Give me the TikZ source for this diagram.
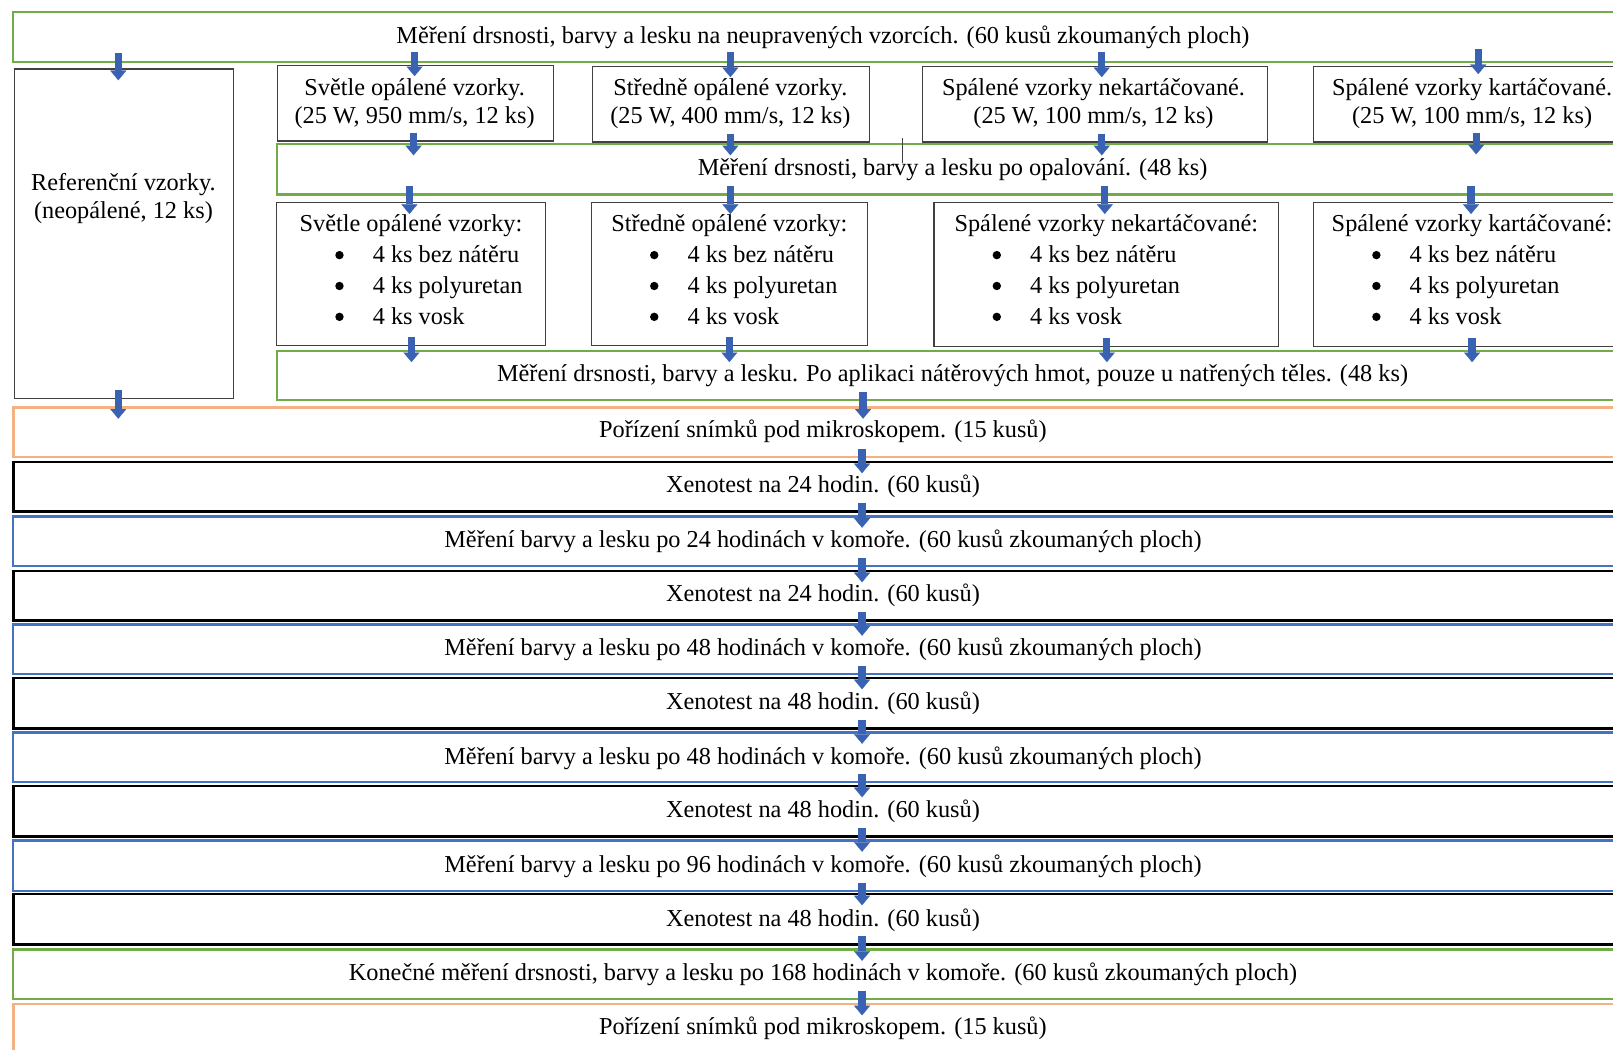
\documentclass[tikz,border=0pt]{standalone}
\usepackage{fontspec}
\setmainfont{Liberation Serif}
\usetikzlibrary{fit,calc,arrows.meta}
\definecolor{boxgreen}{RGB}{112,173,71}
\definecolor{boxorange}{RGB}{244,177,131}
\definecolor{boxblue}{RGB}{68,114,196}
\definecolor{arrowblue}{RGB}{58,98,178}
\definecolor{thinline}{RGB}{64,64,64}
\tikzset{
  frame/.style={inner sep=0pt, outer sep=0pt},
  greenbox/.style={frame, draw=boxgreen, line width=1.1pt},
  orangebox/.style={frame, draw=boxorange, line width=1.2pt},
  bluebox/.style={frame, draw=boxblue, line width=1.1pt},
  blackbox/.style={frame, draw=black, line width=1.35pt},
  thinbox/.style={frame, draw=thinline, line width=0.6pt},
  txt/.style={anchor=base, inner sep=0pt, font=\fontsize{12.15pt}{14pt}\selectfont},
  itemtxt/.style={txt, anchor=base west},
  bulletdot/.style={circle, fill=black, inner sep=0pt, minimum size=4.2pt},
  barrow/.style={draw=arrowblue, line width=3.6pt,
    -{Triangle[width=8pt,length=4.8pt,line width=0.1pt]}},
}
% block arrow at x from the bottom of one node into the top of the next
\newcommand\flowarrow[4][0]{%
  \path (#2,0 |- #3.south) coordinate (fa) (#2,0 |- #4.north) coordinate (fb);
  \draw[barrow] ($(fa)+(0,{-8+#1})$) -- ($(fb)+(0,{11+#1})$);}
% box with heading and three bullet items
\newcommand\listbox[6]{%
  \node[thinbox, fit={(#2,197) (#3,#4)}] (#1) {};
  \node[txt] (#1h) at (#5,225) {#6};
  \node[bulletdot] (#1b1) at ({#2+61},248) {};
  \node[bulletdot] (#1b2) at ({#2+61},278) {};
  \node[bulletdot] (#1b3) at ({#2+61},308) {};
  \node[itemtxt] (#1i1) at ({#2+93},255) {4 ks bez nátěru};
  \node[itemtxt] (#1i2) at ({#2+93},285) {4 ks polyuretan};
  \node[itemtxt] (#1i3) at ({#2+93},315) {4 ks vosk};
}
\begin{document}
\begin{tikzpicture}[x=0.51435pt, y=-0.51435pt]
\useasboundingbox (0,0) rectangle (1568,1020);
\clip (0,0) rectangle (1568,1020);
\fill[white] (0,0) rectangle (1568,1020);

% ---------- top section ----------
\node[greenbox, fit={(13,12) (1586,60)}] (top) {};
\node[txt] (topt) at (800,42) {Měření drsnosti, barvy a lesku na neupravených vzorcích. (60 kusů zkoumaných ploch)};

\node[thinbox, fit={(14,67) (227,387)}] (ref) {};
\node[txt] (reft1) at (120,185) {Referenční vzorky.};
\node[txt] (reft2) at (120,212) {(neopálené, 12 ks)};

\node[thinbox, fit={(270,64) (538,137)}] (A1) {};
\node[txt] (A1t1) at (403,93) {Světle opálené vzorky.};
\node[txt] (A1t2) at (403,120) {(25 W, 950 mm/s, 12 ks)};

\node[thinbox, fit={(576,65) (845,138)}] (B1) {};
\node[txt] (B1t1) at (710,93) {Středně opálené vzorky.};
\node[txt] (B1t2) at (710,120) {(25 W, 400 mm/s, 12 ks)};

\node[thinbox, fit={(897,65) (1232,138)}] (C1) {};
\node[txt] (C1t1) at (1063,93) {Spálené vzorky nekartáčované.};
\node[txt] (C1t2) at (1063,120) {(25 W, 100 mm/s, 12 ks)};

\node[thinbox, fit={(1277,65) (1585,138)}] (D1) {};
\node[txt] (D1t1) at (1431,93) {Spálené vzorky kartáčované.};
\node[txt] (D1t2) at (1431,120) {(25 W, 100 mm/s, 12 ks)};

\node[greenbox, fit={(269,140) (1586,189)}] (G2) {};
\node[txt] (G2t) at (926,171) {Měření drsnosti, barvy a lesku po opalování. (48 ks)};

\listbox{A2}{269}{530}{336}{399.5}{Světle opálené vzorky:}
\listbox{B2}{575}{843}{336}{709}{Středně opálené vzorky:}
\listbox{C2}{908}{1243}{337}{1075.5}{Spálené vzorky nekartáčované:}
\listbox{D2}{1277}{1586}{337}{1431}{Spálené vzorky kartáčované:}

\node[greenbox, fit={(269,341) (1586,389)}] (G3) {};
\node[txt] (G3t) at (926,371) {Měření drsnosti, barvy a lesku. Po aplikaci nátěrových hmot, pouze u natřených těles. (48 ks)};

% ---------- full-width sequence ----------
\node[orangebox, fit={(13,396) (1586,444)}] (O1) {};
\node[txt] (O1t) at (800,425) {Pořízení snímků pod mikroskopem. (15 kusů)};
\node[blackbox, fit={(13,449) (1586,497)}] (K1) {};
\node[txt] (K1t) at (800,479) {Xenotest na 24 hodin. (60 kusů)};
\node[bluebox, fit={(13,502) (1586,550)}] (U1) {};
\node[txt] (U1t) at (800,532) {Měření barvy a lesku po 24 hodinách v komoře. (60 kusů zkoumaných ploch)};
\node[blackbox, fit={(13,555) (1586,603)}] (K2) {};
\node[txt] (K2t) at (800,585) {Xenotest na 24 hodin. (60 kusů)};
\node[bluebox, fit={(13,607) (1586,655)}] (U2) {};
\node[txt] (U2t) at (800,637) {Měření barvy a lesku po 48 hodinách v komoře. (60 kusů zkoumaných ploch)};
\node[blackbox, fit={(13,659) (1586,708)}] (K3) {};
\node[txt] (K3t) at (800,690) {Xenotest na 48 hodin. (60 kusů)};
\node[bluebox, fit={(13,712) (1586,760)}] (U3) {};
\node[txt] (U3t) at (800,743) {Měření barvy a lesku po 48 hodinách v komoře. (60 kusů zkoumaných ploch)};
\node[blackbox, fit={(13,764) (1586,813)}] (K4) {};
\node[txt] (K4t) at (800,795) {Xenotest na 48 hodin. (60 kusů)};
\node[bluebox, fit={(13,817) (1586,866)}] (U4) {};
\node[txt] (U4t) at (800,848) {Měření barvy a lesku po 96 hodinách v komoře. (60 kusů zkoumaných ploch)};
\node[blackbox, fit={(13,869) (1586,918)}] (K5) {};
\node[txt] (K5t) at (800,901) {Xenotest na 48 hodin. (60 kusů)};
\node[greenbox, fit={(13,923) (1586,971)}] (G4) {};
\node[txt] (G4t) at (800,953) {Konečné měření drsnosti, barvy a lesku po 168 hodinách v komoře. (60 kusů zkoumaných ploch)};
\node[orangebox, fit={(13,976) (1586,1024)}] (O2) {};
\node[txt] (O2t) at (800,1006) {Pořízení snímků pod mikroskopem. (15 kusů)};

% ---------- arrows ----------
\flowarrow{115}{top}{ref}
\flowarrow[-1]{403}{top}{A1}
\flowarrow[-1]{710}{top}{B1}
\flowarrow[-1]{1071}{top}{C1}
\flowarrow[-4]{1437}{top}{D1}
\flowarrow{402}{A1}{G2}
\flowarrow{710}{B1}{G2}
\flowarrow{1071}{C1}{G2}
\flowarrow[-1]{1435}{D1}{G2}
\flowarrow{398}{G2}{A2}
\flowarrow{710}{G2}{B2}
\flowarrow{1074}{G2}{C2}
\flowarrow{1430}{G2}{D2}
\flowarrow{400}{A2}{G3}
\flowarrow{709}{B2}{G3}
\flowarrow{1076}{C2}{G3}
\flowarrow{1431}{D2}{G3}
\flowarrow{115}{ref}{O1}
\flowarrow{839}{G3}{O1}
\flowarrow{838}{O1}{K1}
\flowarrow{838}{K1}{U1}
\flowarrow{838}{U1}{K2}
\flowarrow{838}{K2}{U2}
\flowarrow{838}{U2}{K3}
\flowarrow{838}{K3}{U3}
\flowarrow{838}{U3}{K4}
\flowarrow{838}{K4}{U4}
\flowarrow{838}{U4}{K5}
\flowarrow{838}{K5}{G4}
\flowarrow{838}{G4}{O2}

% small stray tick between the boxes
\coordinate (tickA) at (877,134);
\coordinate (tickB) at (877,158);
\draw[thinline, line width=0.4pt] (tickA) -- (tickB);
\end{tikzpicture}
\end{document}
